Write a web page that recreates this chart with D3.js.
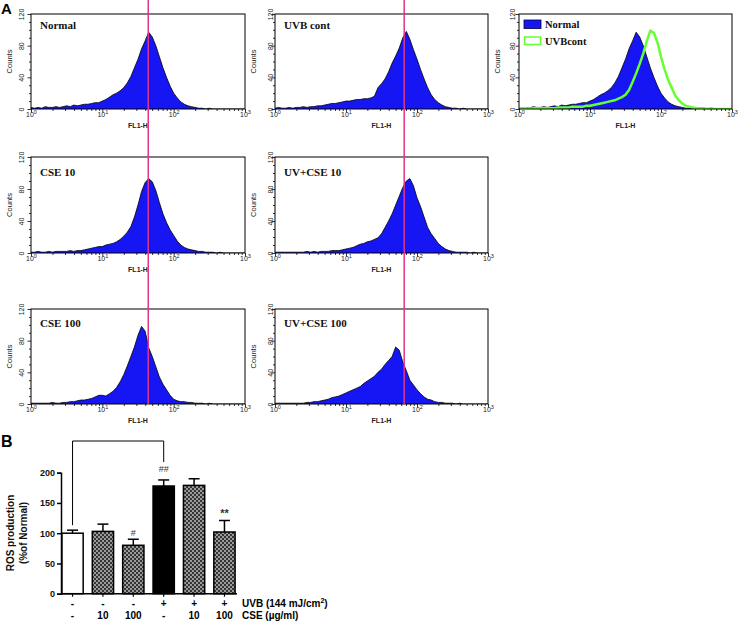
<!DOCTYPE html>
<html><head><meta charset="utf-8">
<script src="https://cdn.jsdelivr.net/npm/d3@7"></script>
<style>body{margin:0;background:#fff}svg{display:block}</style>
</head><body>
<svg id="c" width="741" height="624"></svg>
<script>
// ---------- DATA ----------
// histogram channel positions: log10(FL1-H) from 0 to 3, step 0.05
const logBins = d3.range(61).map(i => +(i * 0.05).toFixed(2));
const histNormal    = [2,1,2,1,3,2,2,3,2,3, 4,3,5,4,5,6,6,7,8,8, 10,12,15,18,20,23,27,33,41,52, 63,76,86,97,91,80,66,52,40,29, 20,14,9,6,4,3,2,1,1,0, 1,0,0,0,0,0,0,0,0,0, 0];
const histUVBcont   = [1,2,1,1,2,1,2,2,3,2, 3,3,4,4,5,6,7,7,8,9, 10,10,11,12,12,13,13,14,16,27, 32,38,47,58,67,77,90,98,88,75, 63,50,38,27,18,12,8,5,3,2, 1,1,0,1,0,0,0,0,0,0, 0];
const histOverlayUVB= [1,1,1,0,1,1,1,1,1,1, 1,2,2,2,2,3,3,3,3,4, 4,5,6,7,8,9,10,11,13,15, 18,24,34,45,57,70,86,99,96,84, 66,50,37,27,17,11,7,4,3,2, 1,1,1,0,1,0,0,0,0,0, 0];
const histCSE10     = [1,1,2,1,1,2,1,2,2,2, 2,3,2,3,3,4,5,6,7,8, 8,10,11,12,14,17,21,26,33,45, 60,77,88,93,89,78,63,49,38,29, 22,15,10,7,5,4,3,2,2,1, 1,1,0,1,0,0,0,0,0,0, 0];
const histUVCSE10   = [1,1,1,1,1,1,1,1,1,2, 1,2,1,2,2,2,3,3,3,4, 5,6,7,9,11,12,14,15,17,19, 24,32,40,49,60,71,82,90,93,84, 69,58,45,32,24,18,12,8,5,3, 2,1,1,1,1,0,1,0,0,0, 0];
const histCSE100    = [1,1,1,1,1,1,2,1,1,2, 2,3,3,4,5,5,6,7,9,11, 11,10,13,16,21,28,37,48,60,72, 87,98,92,71,60,47,34,25,18,11, 6,4,3,3,2,2,1,1,1,0, 1,0,0,0,0,0,0,0,0,0, 0];
const histUVCSE100  = [1,1,1,1,1,1,1,1,1,2, 2,3,3,4,5,6,8,9,10,12, 14,16,18,20,22,26,29,32,35,40, 44,50,55,60,72,68,53,42,30,24, 18,13,9,6,5,3,2,2,1,1, 1,0,1,0,0,0,0,0,0,0, 0];
const panelLabels = ["Normal","UVB cont","CSE 10","UV+CSE 10","CSE 100","UV+CSE 100"];
const legendLabels = ["Normal","UVBcont"];
const markerValues = [44, 66];          // gate lines (FL1-H) for column 1 and 2
const xTickValues = [1,10,100,1000];
const yTickValues = [0,40,80,120];

const groups   = ["Normal","CSE 10","CSE 100","UVB","UVB+CSE 10","UVB+CSE 100"];
const rosMean  = [100,103,80,178,179,102];
const rosErr   = [5,12,10,10,11,19];
const uvbRow   = ["-","-","-","+","+","+"];
const cseRow   = ["-","10","100","-","10","100"];
const sigMarks = ["","","#","","","**"];
const rosTicks = [0,50,100,150,200];

// ---------- DRAW ----------
const svg = d3.select("#c");
const defs = svg.append("defs");
const pat = defs.append("pattern").attr("id","hatch").attr("width",4).attr("height",4).attr("patternUnits","userSpaceOnUse");
pat.append("rect").attr("width",4).attr("height",4).attr("fill","#9a9a9a");
pat.append("rect").attr("width",2).attr("height",2).attr("fill","#353535");
pat.append("rect").attr("x",2).attr("y",2).attr("width",2).attr("height",2).attr("fill","#353535");

const cols = [[31,245],[275,488],[519,732]];
const rows = [[14,109],[157,253],[309,404]];
const ylabOff = [10,5,7];
const labelBase = [29,176,327];
const BLUE = "#1616f5";
const sans = "Arial, 'Liberation Sans', sans-serif";
const serif = "'Times New Roman', 'Liberation Serif', serif";

function minorTicks(){ const t=[]; [1,10,100].forEach(d=>{for(let k=2;k<=9;k++) t.push(d*k);}); return t; }
function yMinor(){ return d3.range(0,121,10).filter(v=>v%40!==0); }

function panel(c, r){
  const [x0,x1] = cols[c], [y0,y1] = rows[r];
  const x = d3.scaleLog().domain([1,1000]).range([x0,x1]);
  const y = d3.scaleLinear().domain([0,120]).range([y1,y0]);
  const g = svg.append("g");
  const cid = "clip"+c+r;
  defs.append("clipPath").attr("id",cid).append("rect").attr("x",x0).attr("y",y0).attr("width",x1-x0).attr("height",y1-y0);
  const plot = g.append("g").attr("clip-path",`url(#${cid})`);
  const gxMin = g.append("g").attr("transform",`translate(0,${y1})`).call(d3.axisBottom(x).tickValues(minorTicks()).tickSize(2).tickFormat(""));
  const gx = g.append("g").attr("transform",`translate(0,${y1})`).call(d3.axisBottom(x).tickValues(xTickValues).tickSize(3.5));
  gx.selectAll(".tick text").each(function(d){
    const t = d3.select(this).attr("y",8).attr("dy",0).attr("font-size",7).attr("font-family",sans).attr("fill","#222").text("10");
    t.append("tspan").attr("dy",-3).attr("font-size",5.5).text(Math.round(Math.log10(d)));
  });
  const gyMin = g.append("g").attr("transform",`translate(${x0},0)`).call(d3.axisLeft(y).tickValues(yMinor()).tickSize(2).tickFormat(""));
  const gy = g.append("g").attr("transform",`translate(${x0},0)`).call(d3.axisLeft(y).tickValues(yTickValues).tickSize(3.5));
  gy.selectAll(".tick text").attr("transform","rotate(-90)").attr("x",0).attr("y",-(ylabOff[c]-2.5)).attr("dy",0)
    .attr("text-anchor","middle").attr("font-size",7).attr("font-family",sans).attr("fill","#222");
  [gx,gxMin,gy,gyMin].forEach(a=>{a.select(".domain").remove(); a.selectAll(".tick line").attr("stroke","#000").attr("stroke-width",0.8);});
  g.append("rect").attr("x",x0).attr("y",y0).attr("width",x1-x0).attr("height",y1-y0)
    .attr("fill","none").attr("stroke","#000").attr("stroke-width",1);
  g.append("text").attr("x",(x0+x1)/2).attr("y",y1+19).attr("text-anchor","middle")
    .attr("font-family",sans).attr("font-weight","bold").attr("font-size",7).attr("fill","#222").text("FL1-H");
  g.append("text").attr("transform",`translate(${x0-19},${(y0+y1)/2}) rotate(-90)`).attr("text-anchor","middle")
    .attr("font-family",sans).attr("font-size",7.5).attr("fill","#222").text("Counts");
  return {g, plot, x, y, x0, y0, y1};
}

function hist(p, vals, fill){
  const data = logBins.map((l,i)=>({l, v: vals[i]}));
  const area = d3.area().x(d=>p.x(Math.pow(10,d.l))).y0(p.y(0)).y1(d=>p.y(d.v));
  const line = d3.line().x(d=>p.x(Math.pow(10,d.l))).y(d=>p.y(d.v));
  p.plot.append("path").attr("d",area(data)).attr("fill",fill);
  p.plot.append("path").attr("d",line(data)).attr("fill","none").attr("stroke","#000").attr("stroke-width",0.8);
}

const layout = [[0,0,histNormal],[1,0,histUVBcont],[0,1,histCSE10],[1,1,histUVCSE10],[0,2,histCSE100],[1,2,histUVCSE100]];
const scales = [];
layout.forEach(([c,r,vals],i)=>{
  const p = panel(c,r);
  scales[c] = p.x;
  hist(p, vals, BLUE);
  p.g.append("text").attr("x",p.x0+9).attr("y",labelBase[r]).attr("font-family",serif).attr("font-weight","bold")
    .attr("font-size",11).attr("fill","#111").text(panelLabels[i]);
});

// overlay panel
const po = panel(2,0);
hist(po, histNormal, BLUE);
po.plot.append("path").attr("d", d3.line().x((d,i)=>po.x(Math.pow(10,logBins[i]))).y(d=>po.y(d))(histOverlayUVB))
  .attr("fill","none").attr("stroke","#66ff33").attr("stroke-width",2.5).attr("stroke-linejoin","round");
const lg = po.g.append("g");
lg.append("rect").attr("x",524).attr("y",20).attr("width",17).attr("height",8.5).attr("fill",BLUE).attr("stroke","#000033").attr("stroke-width",0.8);
lg.append("rect").attr("x",524.5).attr("y",37).attr("width",16).attr("height",7.5).attr("fill","#fff").attr("stroke","#66ff33").attr("stroke-width",1.5);
lg.selectAll("text.l").data(legendLabels).join("text").attr("x",545).attr("y",(d,i)=>28+i*17)
  .attr("font-family",serif).attr("font-weight","bold").attr("font-size",10.5).attr("fill","#111").text(d=>d);

// gate lines
markerValues.forEach((v,c)=>{
  svg.append("line").attr("x1",scales[c](v)).attr("x2",scales[c](v)).attr("y1",0).attr("y2",rows[2][1])
    .attr("stroke","#e0358a").attr("stroke-width",1.5);
});

// panel letters
svg.append("text").attr("x",1).attr("y",14).attr("font-family",sans).attr("font-weight","bold").attr("font-size",15).text("A");
svg.append("text").attr("x",1).attr("y",447).attr("font-family",sans).attr("font-weight","bold").attr("font-size",16).text("B");

// ---------- BAR CHART ----------
const xb = d3.scaleBand().domain(groups).range([61,236]).paddingInner(0.3).paddingOuter(0.03);
const yb = d3.scaleLinear().domain([0,200]).range([593.7,472.7]);
const bg = svg.append("g");
const fills = ["#fff","url(#hatch)","url(#hatch)","#000","url(#hatch)","url(#hatch)"];
groups.forEach((gname,i)=>{
  const cx = xb(gname)+xb.bandwidth()/2;
  bg.append("line").attr("x1",cx).attr("x2",cx).attr("y1",yb(rosMean[i])).attr("y2",yb(rosMean[i]+rosErr[i])).attr("stroke","#000").attr("stroke-width",1.5);
  bg.append("line").attr("x1",cx-5.5).attr("x2",cx+5.5).attr("y1",yb(rosMean[i]+rosErr[i])).attr("y2",yb(rosMean[i]+rosErr[i])).attr("stroke","#000").attr("stroke-width",1.5);
});
bg.selectAll("rect.bar").data(groups).join("rect").attr("class","bar")
  .attr("x",d=>xb(d)).attr("width",xb.bandwidth())
  .attr("y",(d,i)=>yb(rosMean[i])).attr("height",(d,i)=>yb(0)-yb(rosMean[i]))
  .attr("fill",(d,i)=>fills[i]).attr("stroke","#000").attr("stroke-width",1.5);
const yAx = bg.append("g").attr("transform","translate(61,0)").call(d3.axisLeft(yb).tickValues(rosTicks).tickSize(4).tickPadding(2));
yAx.select(".domain").attr("stroke-width",1.5);
yAx.selectAll(".tick line").attr("stroke-width",1.5);
yAx.selectAll(".tick text").attr("font-family",sans).attr("font-weight","bold").attr("font-size",9).attr("fill","#111");
const xAx = bg.append("g").attr("transform",`translate(0,${yb(0)})`).call(d3.axisBottom(xb).tickSize(3).tickFormat(""));
xAx.select(".domain").attr("d","M61,0H237").attr("stroke-width",1.5);
xAx.selectAll(".tick line").attr("stroke-width",1.2);
bg.append("text").attr("transform","translate(13.5,533) rotate(-90)").attr("text-anchor","middle")
  .attr("font-family",sans).attr("font-weight","bold").attr("font-size",10).attr("fill","#111").text("ROS production");
bg.append("text").attr("transform","translate(26.5,533) rotate(-90)").attr("text-anchor","middle")
  .attr("font-family",sans).attr("font-weight","bold").attr("font-size",10).attr("fill","#111").text("(%of Normal)");
groups.forEach((gname,i)=>{
  const cx = xb(gname)+xb.bandwidth()/2;
  bg.append("text").attr("x",cx).attr("y",607).attr("text-anchor","middle").attr("font-family",sans).attr("font-weight","bold").attr("font-size",10).text(uvbRow[i]);
  bg.append("text").attr("x",cx).attr("y",619).attr("text-anchor","middle").attr("font-family",sans).attr("font-weight","bold").attr("font-size",10).text(cseRow[i]);
  if (sigMarks[i]) bg.append("text").attr("x",cx).attr("y",yb(rosMean[i]+rosErr[i])-3.5).attr("text-anchor","middle")
    .attr("font-family",sans).attr("font-weight",sigMarks[i]==="**"?"bold":"normal").attr("font-size",sigMarks[i]==="**"?11:9).attr("fill","#333").text(sigMarks[i]);
});
const uv = bg.append("text").attr("x",242).attr("y",607).attr("font-family",sans).attr("font-weight","bold").attr("font-size",10).text("UVB (144 mJ/cm");
uv.append("tspan").attr("dy",-4).attr("font-size",7).text("2");
uv.append("tspan").attr("dy",4).text(")");
bg.append("text").attr("x",242).attr("y",619).attr("font-family",sans).attr("font-weight","bold").attr("font-size",10).text("CSE (µg/ml)");
// bracket Normal vs UVB
const c0 = xb(groups[0])+xb.bandwidth()/2, c3 = xb(groups[3])+xb.bandwidth()/2;
bg.append("path").attr("d",`M${c0},${yb(rosMean[0]+rosErr[0])-5}V441H${c3}V462`).attr("fill","none").attr("stroke","#000").attr("stroke-width",1);
bg.append("text").attr("x",c3).attr("y",472).attr("text-anchor","middle").attr("font-family",sans).attr("font-size",9).attr("fill","#333").text("##");
</script>
</body></html>
